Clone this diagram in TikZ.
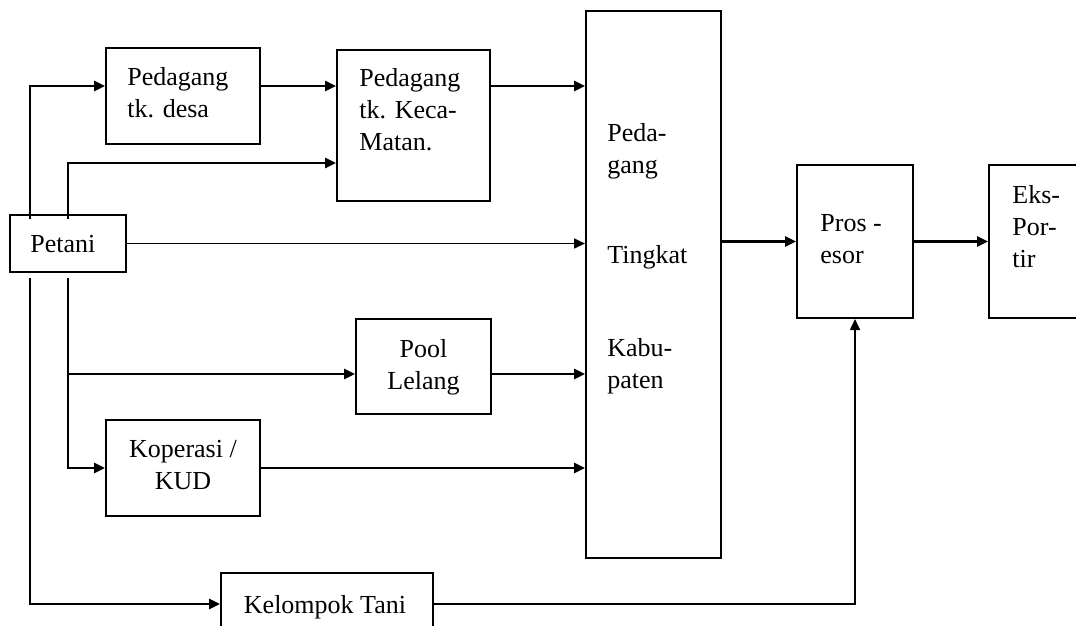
\documentclass[tikz,border=0pt]{standalone}
\usepackage{fontspec}
\setmainfont{Liberation Serif}
\usetikzlibrary{arrows.meta}
\tikzset{box/.style = {draw, line width=1pt, minimum width=#1, inner sep=0pt},
         txt/.style = {inner sep=0pt, anchor=north west, align=left, font=\fontsize{13}{16}\selectfont},
         ctxt/.style = {txt, anchor=north, align=center},
         arr/.style = {line width=1.3pt, -{Triangle[length=5.5pt,width=5pt]}},
         thinarr/.style = {arr, line width=0.8pt}}

\begin{document}
\begin{tikzpicture}[x=0.5pt, y=-0.5pt]
  \useasboundingbox (0,0) rectangle (1076,626);
  % boxes
  \node[box=58pt, minimum height=28.5pt] (petani) at (68,243.5) {};
  \node[box=77pt, minimum height=48pt] (desa) at (183,96) {};
  \node[box=76.5pt, minimum height=75.5pt] (keca) at (413.5,125.5) {};
  \node[box=67.5pt, minimum height=273.5pt] (big) at (653.5,284.5) {};
  \node[box=67.5pt, minimum height=47.5pt] (pool) at (423.5,366.5) {};
  \node[box=77pt, minimum height=48pt] (kop) at (183,468) {};
  \node[box=106pt, minimum height=43.5pt] (kel) at (327,616.5) {};
  \node[box=58pt, minimum height=76.5pt] (pros) at (855,241.5) {};
  \node[box=60.5pt, minimum height=76.5pt] (eks) at (1049.5,241.5) {};
  % texts
  \node[txt] (petaniT) at (30,235) {Petani};
  \node[txt] (desaT) at (127,67) {Pedagang\\tk. desa};
  \node[txt] (kecaT) at (359,68) {Pedagang\\tk. Keca-\\Matan.};
  \node[txt] (bigT) at (607,123) {Peda-\\gang\\[29pt]Tingkat\\[30.5pt]Kabu-\\paten};
  \node[ctxt] (poolT) at (423.5,339) {Pool\\Lelang};
  \node[ctxt] (kopT) at (183,440) {Koperasi /\\KUD};
  \node[ctxt] (kelT) at (325,595) {Kelompok Tani};
  \node[txt] (prosT) at (820,214) {Pros -\\esor};
  \node[txt] (eksT) at (1012,185) {Eks-\\Por-\\tir};
  % trunks and rows
  \coordinate (trunkA) at (30,0);
  \coordinate (trunkB) at (68,0);
  \coordinate (rowA) at (0,86);
  \coordinate (rowB) at (0,163);
  \coordinate (rowE) at (0,374);
  \coordinate (rowG) at (0,604);
  % connectors
  \draw[arr, shorten <=-2.5pt] (petani.north -| trunkA) |- (desa.west |- rowA);
  \draw[arr] (desa.east |- rowA) -- (keca.west |- rowA);
  \draw[arr] (keca.east |- rowA) -- (big.west |- rowA);
  \draw[arr, shorten <=-2.5pt] (petani.north -| trunkB) |- (keca.west |- rowB);
  \draw[thinarr] (petani) -- (big.west |- petani);
  \draw[arr, shorten <=2.5pt] (petani.south -| trunkB) |- (kop.west);
  \draw[arr] (trunkB |- rowE) -- (pool.west |- rowE);
  \draw[arr] (pool.east |- rowE) -- (big.west |- rowE);
  \draw[arr] (kop) -- (big.west |- kop);
  \draw[arr, shorten <=2.5pt] (petani.south -| trunkA) |- (kel.west |- rowG);
  \draw[thinarr] (kel.east |- rowG) -| (pros.south);
  \draw[arr] (big.east |- pros) -- (pros);
  \draw[arr] (pros) -- (eks);
\end{tikzpicture}
\end{document}
